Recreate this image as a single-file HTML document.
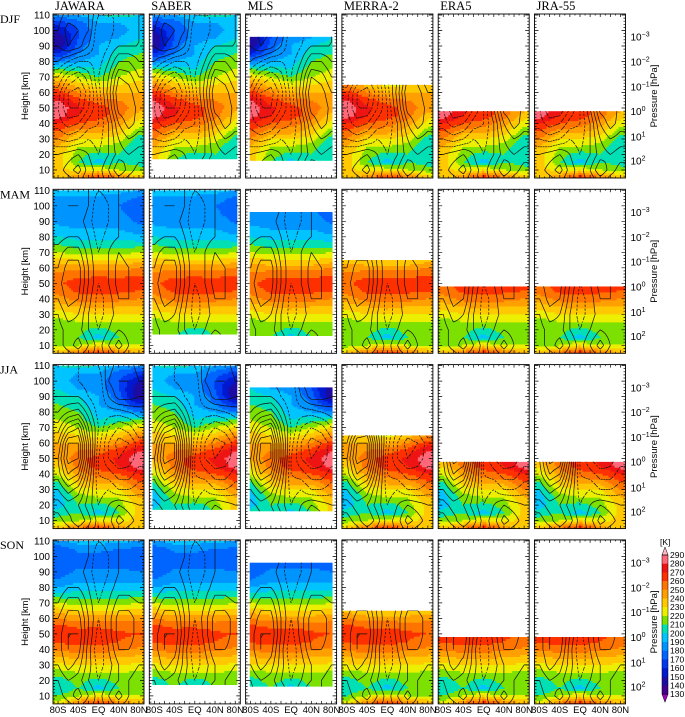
<!DOCTYPE html>
<html><head><meta charset="utf-8">
<style>
html,body{margin:0;padding:0;background:#fff;}
svg{display:block;font-family:"Liberation Sans",sans-serif;}
</style></head>
<body>
<svg id="fig" width="685" height="717" viewBox="0 0 685 717" xmlns="http://www.w3.org/2000/svg"></svg>
<script>
// ---------- data ----------
const seasons = ["DJF","MAM","JJA","SON"];
const datasets = ["JAWARA","SABER","MLS","MERRA-2","ERA5","JRA-55"];
// coverage of each dataset: [latMin, latMax, hMin, hMax]
const dsLatMin = [-90,-84,-82,-90,-90,-90];
const dsLatMax = [90,84,82,90,90,90];
const dsHMin = [4.8,17,16,4.8,4.8,4.8];
const dsHMax = [110,110,96,65,48,48];

// temperature [K] at latitudes tLats, heights tHeights (5..110 step 5)
const tLats = [-80,-40,0,40,80];
const tHeights = [5,10,15,20,25,30,35,40,45,50,55,60,65,70,75,80,85,90,95,100,105,110];
const tempDJF = [
 [230,235,235,235,240,250,260,270,285,288,280,265,250,230,210,180,160,140,140,150,165,185],
 [250,225,210,215,220,230,245,260,270,272,265,250,235,220,205,190,180,175,170,170,175,190],
 [270,230,195,205,220,230,245,255,265,265,255,240,225,210,200,195,190,190,185,185,190,200],
 [255,220,210,210,215,225,235,245,255,255,250,240,230,220,215,210,205,200,190,185,190,205],
 [235,215,205,200,200,205,215,225,235,245,245,240,235,225,220,215,210,205,200,195,195,200]];
const tempMAM = [
 [235,215,210,210,215,225,235,245,255,258,255,245,235,220,210,200,192,188,185,185,188,198],
 [255,220,210,215,220,230,240,255,262,265,258,245,230,215,205,197,190,186,183,183,186,198],
 [270,230,195,205,220,230,245,255,265,268,258,245,230,215,205,197,190,186,183,183,186,198],
 [255,220,210,215,220,230,240,255,262,265,258,245,230,215,205,197,190,186,182,180,184,195],
 [240,220,215,215,220,230,240,250,260,265,260,250,235,220,205,192,184,178,175,175,178,190]];
const tempJJA = [
 [235,215,205,195,195,200,210,222,232,242,243,240,235,225,220,215,210,205,200,195,195,200],
 [255,220,210,210,215,225,235,245,255,256,250,240,230,220,215,210,205,200,190,185,190,205],
 [270,230,195,205,220,230,245,255,265,265,255,240,225,210,200,195,190,190,185,185,190,200],
 [250,225,210,215,220,230,245,260,270,272,265,250,235,220,205,190,180,175,170,170,175,190],
 [230,235,235,235,240,250,260,270,285,288,280,265,250,230,210,180,160,140,140,150,165,185]];
const tempSON = [
 [225,210,200,205,215,228,240,252,262,266,262,250,236,220,205,190,180,174,170,170,174,188],
 [255,220,210,215,220,230,242,256,264,266,258,245,230,215,205,195,187,182,178,178,182,196],
 [270,230,195,205,220,230,245,255,265,268,258,245,230,215,205,195,187,182,178,178,182,196],
 [255,220,210,215,220,230,240,252,260,262,256,245,230,215,205,195,187,182,178,176,180,194],
 [240,220,212,212,218,228,238,248,256,260,256,246,234,220,207,195,187,180,176,174,178,190]];
const tempBySeason = [tempDJF,tempMAM,tempJJA,tempSON];

// zonal wind [m/s], rows by height uHeights, cols by uLats
const uLats = [-80,-60,-40,-20,0,20,40,60,80];
const uHeights = [0,10,20,30,40,50,60,70,80,90,100,110];
const windDJF = [
 [0,0,5,0,-5,0,5,0,0],[5,15,25,5,-5,10,30,15,5],[0,5,10,0,-10,0,15,20,15],
 [-20,-25,-20,-10,-15,0,20,30,25],[-35,-45,-40,-25,-20,0,30,45,35],[-40,-60,-60,-40,-20,10,45,50,35],
 [-35,-60,-65,-45,-15,15,50,45,30],[-20,-40,-50,-35,-10,10,40,35,20],[0,-10,-20,-20,-15,0,20,20,10],
 [10,20,15,0,-20,-10,0,0,0],[10,25,20,10,-20,-15,-5,-5,0],[5,15,15,10,-10,-10,-10,-5,0]];
const windMAM = [
 [0,0,5,0,-5,0,5,0,0],[5,15,25,10,-5,10,25,10,5],[5,15,15,0,-10,0,10,5,0],
 [10,25,20,0,-15,-5,5,5,0],[20,35,30,5,-15,-5,10,10,5],[25,40,35,10,-10,0,15,10,5],
 [20,35,35,10,-10,0,15,10,5],[15,25,25,5,-10,0,10,5,0],[5,10,10,0,-15,-5,0,0,0],
 [0,5,5,-5,-20,-10,0,0,0],[0,10,10,0,-20,-10,0,5,5],[0,5,5,0,-10,-5,0,5,5]];
const windJJA = [
 [0,0,5,0,-5,0,5,0,0],[5,15,30,15,-5,5,25,15,5],[15,25,20,5,-10,0,10,5,0],
 [30,45,35,10,-15,-10,-20,-20,-15],[45,70,60,20,-20,-25,-35,-35,-25],[50,85,80,30,-20,-40,-50,-45,-35],
 [40,80,80,30,-15,-40,-55,-50,-35],[25,50,60,20,-10,-30,-40,-35,-20],[10,20,25,5,-15,-15,-15,-10,-5],
 [0,0,0,-10,-20,0,15,15,10],[-5,-5,-10,-15,-20,10,20,20,10],[-5,-10,-10,-10,-10,5,15,15,5]];
const windSON = [
 [0,0,5,0,-5,0,5,0,0],[5,15,25,10,-5,10,25,10,5],[10,20,15,0,-10,0,10,10,5],
 [20,35,25,5,-15,-5,10,15,10],[25,40,35,5,-20,0,20,20,15],[25,40,40,10,-15,5,25,25,15],
 [20,35,35,10,-10,5,25,25,15],[10,25,25,5,-10,0,15,15,10],[0,10,10,0,-15,-5,5,5,0],
 [0,5,5,-5,-20,-10,0,0,0],[0,5,10,0,-20,-10,0,5,5],[0,5,5,0,-10,-5,0,0,0]];
const windBySeason = [windDJF,windMAM,windJJA,windSON];

const heightTicks = [10,20,30,40,50,60,70,80,90,100,110];
const pressureExp = ["-3","-2","-1","0","1","2"];
const pressureHeights = [96,80,64,48,31.5,16];
const latTicks = [-80,-40,0,40,80];
const latLabels = ["80S","40S","EQ","40N","80N"];
const cbLevels = [290,280,270,260,250,240,230,220,210,200,190,180,170,160,150,140,130];
const cbColors = ["#a000c0","#42008c","#1c0ca4","#0018d0","#0038f0","#0064ff","#0094ff","#00c4ff","#00e0b4","#7ce000","#ecf000","#ffc800","#ffa000","#ff7400","#ff3000","#ee1414","#ff6878","#ffb8c4"];

// ---------- layout ----------
const NS="http://www.w3.org/2000/svg";
const svg=document.getElementById('fig');
const LEFT0=53, DX=96.3, W=91, TOP0=14, DY=175.3, H=164, KPX=1.55;
function mk(tag,attrs,parent){const e=document.createElementNS(NS,tag);for(const k in attrs)e.setAttribute(k,attrs[k]);(parent||svg).appendChild(e);return e;}
function lerpIdx(arr,v){if(v<=arr[0])return [0,0,0];if(v>=arr[arr.length-1]){const n=arr.length-1;return [n,n,0];}
 for(let i=0;i<arr.length-1;i++){if(v<=arr[i+1])return [i,i+1,(v-arr[i])/(arr[i+1]-arr[i])];}}
function tempAt(tb,lat,h){const [a,b,fa]=lerpIdx(tLats,lat),[c,d,fc]=lerpIdx(tHeights,h);
 const v1=tb[a][c]*(1-fc)+tb[a][d]*fc, v2=tb[b][c]*(1-fc)+tb[b][d]*fc; return v1*(1-fa)+v2*fa;}
function windAt(wb,lat,h){const [a,b,fa]=lerpIdx(uLats,lat),[c,d,fc]=lerpIdx(uHeights,h);
 const v1=wb[c][a]*(1-fa)+wb[c][b]*fa, v2=wb[d][a]*(1-fa)+wb[d][b]*fa; return v1*(1-fc)+v2*fc;}
function colorOf(T){let i=Math.floor((T-130)/10)+1;i=Math.max(0,Math.min(cbColors.length-1,i));return cbColors[i];}

let clipId=0;
for(let r=0;r<4;r++){
 const top=TOP0+r*DY;
 const yOf=h=>top+1+(110-h)*KPX;
 mk('text',{x:0,y:top+9,'font-family':'Liberation Serif, serif','font-size':12,}).textContent=seasons[r];
 for(let c=0;c<6;c++){
  const left=LEFT0+c*DX;
  const xOf=lat=>left+(lat+90)/180*W;
  const g=mk('g',{});
  if(r===0){mk('text',{x:left+2,y:10,'font-family':'Liberation Serif, serif','font-size':12.5,}).textContent=datasets[c];}
  const x0=xOf(dsLatMin[c]),x1=xOf(dsLatMax[c]),y0=yOf(dsHMax[c]),y1=Math.min(yOf(dsHMin[c]),top+H);
  const cid='clip'+(clipId++);
  const cp=mk('clipPath',{id:cid},g);mk('rect',{x:x0,y:y0,width:x1-x0,height:y1-y0},cp);
  const hg=mk('g',{'clip-path':'url(#'+cid+')'},g);
  
  
  const tb=tempBySeason[r];
  const step=2;
  for(let y=y0;y<y1;y+=step){
   const h=110-(y+step/2-top-1)/KPX;
   let runStart=x0,runCol=null;
   for(let x=x0;x<=x1+step;x+=step){
    const lat=Math.max(-90,Math.min(90,(x+step/2-left)/W*180-90));
    const col=x>x1?null:colorOf(tempAt(tb,lat,h));
    if(col!==runCol){
     if(runCol){const rc=mk('rect',{x:runStart,y:y,width:x-runStart+0.5,height:step+0.5,fill:runCol},hg);
      
      }
     runStart=x;runCol=col;}
   }
  }
  // contours via marching squares
  const wb=windBySeason[r];
  const NX=37,NY=45;const lats=[],hs=[];
  for(let i=0;i<NX;i++)lats.push(-90+i*5);
  for(let j=0;j<NY;j++)hs.push(j*2.5);
  const grid=hs.map(h=>lats.map(l=>windAt(wb,l,h)));
  let solid='',dashed='';
  for(let lev=-90;lev<=90;lev+=10){
   let d='';
   for(let j=0;j<NY-1;j++)for(let i=0;i<NX-1;i++){
    const v=[grid[j][i],grid[j][i+1],grid[j+1][i+1],grid[j+1][i]];
    const P=[[lats[i],hs[j]],[lats[i+1],hs[j]],[lats[i+1],hs[j+1]],[lats[i],hs[j+1]]];
    const pts=[];
    for(let k=0;k<4;k++){const a=v[k],b=v[(k+1)%4];
     if((a<lev)!==(b<lev)){const t=(lev-a)/(b-a);const pa=P[k],pb=P[(k+1)%4];
      pts.push([xOf(pa[0]+(pb[0]-pa[0])*t),yOf(pa[1]+(pb[1]-pa[1])*t)]);}}
    for(let k=0;k+1<pts.length;k+=2)d+='M'+pts[k][0].toFixed(1)+' '+pts[k][1].toFixed(1)+'L'+pts[k+1][0].toFixed(1)+' '+pts[k+1][1].toFixed(1);
   }
   if(lev<0)dashed+=d;else solid+=d;
  }
  const cs=mk('path',{d:solid,stroke:'#111',fill:'none','stroke-width':0.7,'clip-path':'url(#'+cid+')'},g);
  
  
  const cd=mk('path',{d:dashed,stroke:'#111',fill:'none','stroke-width':0.7,'stroke-dasharray':'2 1.5','clip-path':'url(#'+cid+')'},g);
  
  
  // frame
  mk('rect',{x:left,y:top,width:W,height:H,fill:'none',stroke:'#000','stroke-width':0.9,},g);
  let tk='';
  for(let h=6;h<=110;h+=2){const y=yOf(h);const L=(h%10===0)?4:2;tk+='M'+left+' '+y+'h'+L+'M'+(left+W)+' '+y+'h-'+L;}
  for(let lat=-80;lat<=80;lat+=10){const x=xOf(lat);const L=(lat%20===0)?3:1.5;tk+='M'+x+' '+top+'v'+L+'M'+x+' '+(top+H)+'v-'+L;}
  mk('path',{d:tk,stroke:'#000','stroke-width':0.7,fill:'none',},g);
  if(r===3){latTicks.forEach((lat,k)=>{mk('text',{x:xOf(lat),y:713,'text-anchor':'middle','font-size':9.5,}).textContent=latLabels[k];});}
 }
 // left axis
 heightTicks.forEach(h=>{mk('text',{x:LEFT0-3,y:yOf(h)+3.5,'text-anchor':'end','font-size':10,}).textContent=h;});
 mk('text',{x:0,y:0,transform:'translate(28,'+(top+H/2)+') rotate(-90)','text-anchor':'middle','font-size':9.5,}).textContent='Height [km]';
 // right axis
 const rx=LEFT0+5*DX+W+5;
 pressureHeights.forEach((h,k)=>{const t=mk('text',{x:rx,y:yOf(h)+4,'font-size':10,});
  t.textContent='10';const s=mk('tspan',{dy:-4,'font-size':7},t);s.textContent=pressureExp[k].replace('-','\u2212');});
 mk('text',{x:0,y:0,transform:'translate(657,'+(top+H/2)+') rotate(-90)','text-anchor':'middle','font-size':9.5,}).textContent='Pressure [hPa]';
}
// colorbar
const cbx=662,cbw=6,cbTop=555,cbStep=8.7;
const cb=mk('g',{});
mk('text',{x:cbx-2,y:545,'font-size':8.5,},cb).textContent='[K]';
for(let i=0;i<cbLevels.length-1;i++){
 const y=cbTop+i*cbStep;
 const rc=mk('rect',{x:cbx,y:y,width:cbw,height:cbStep+0.3,fill:colorOf(cbLevels[i]-5)},cb);
 
 
}
const yEnd=cbTop+(cbLevels.length-1)*cbStep;
mk('path',{d:`M${cbx} ${cbTop}L${cbx+cbw/2} ${cbTop-8}L${cbx+cbw} ${cbTop}Z`,fill:colorOf(295),stroke:'#000','stroke-width':0.5,},cb);
mk('path',{d:`M${cbx} ${yEnd}L${cbx+cbw/2} ${yEnd+8}L${cbx+cbw} ${yEnd}Z`,fill:colorOf(125),stroke:'#000','stroke-width':0.5,},cb);
mk('rect',{x:cbx,y:cbTop,width:cbw,height:yEnd-cbTop,fill:'none',stroke:'#000','stroke-width':0.5},cb);
cbLevels.forEach((v,i)=>{mk('text',{x:cbx+8,y:cbTop+i*cbStep+3,'font-size':8.5,},cb).textContent=v;});
</script>
</body></html>
